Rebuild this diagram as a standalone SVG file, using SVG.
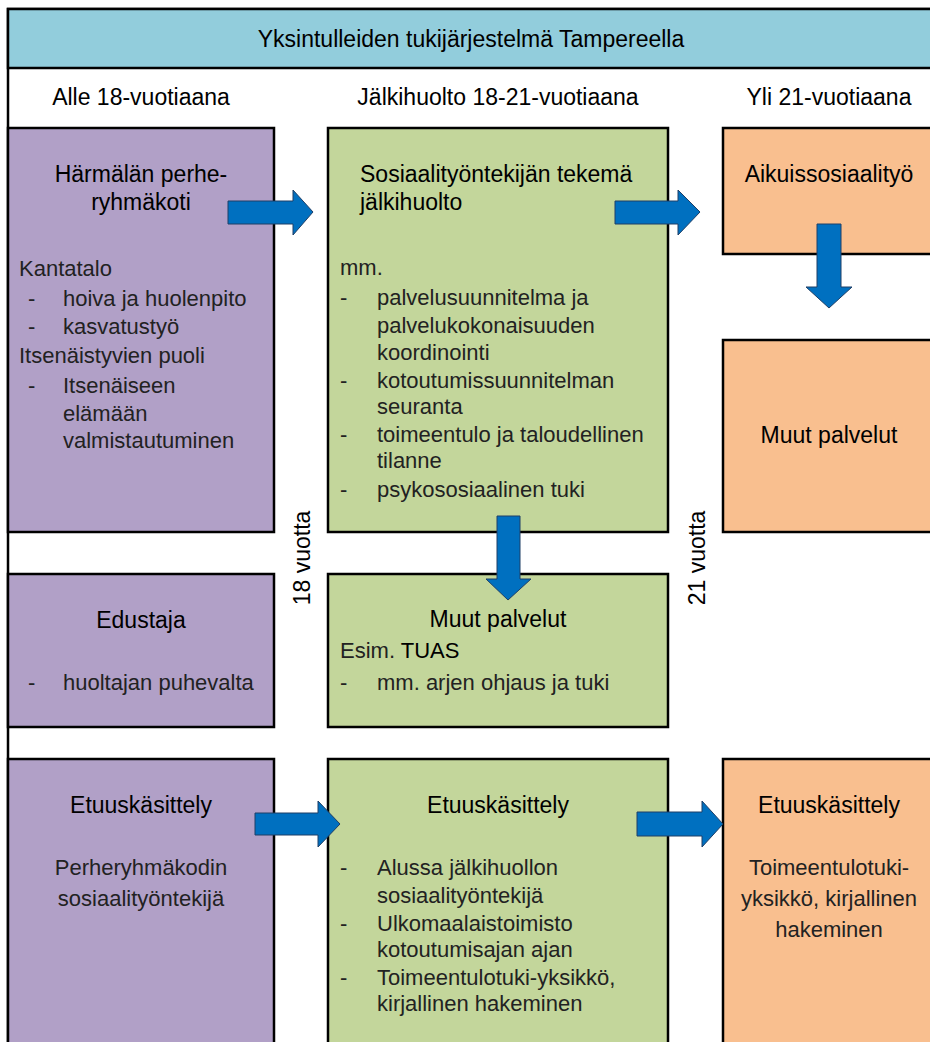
<svg xmlns="http://www.w3.org/2000/svg" width="930" height="1042" viewBox="0 0 930 1042">
<defs>
<style>
.box{stroke:#000;stroke-width:2.5}
.pur{fill:#B1A0C7}
.grn{fill:#C3D69B}
.org{fill:#F9BF8F}
.t{font-family:"Liberation Sans",Arial,sans-serif;font-size:23px;fill:#000}
.b{font-family:"Liberation Sans",Arial,sans-serif;font-size:22px;fill:#222}
.c{text-anchor:middle}
.arr{fill:#0070C0;stroke:#1F3F66;stroke-width:1}
</style>
</defs>
<rect x="0" y="0" width="930" height="1042" fill="#fff"/>
<g id="frame">
<rect x="8" y="9" width="940" height="1050" fill="#fff" stroke="#000" stroke-width="2.5"/>
</g>
<g id="header">
<rect x="8" y="9" width="940" height="59" fill="#92CDDC" stroke="#000" stroke-width="2.5"/>
<text class="t c" x="471" y="47">Yksintulleiden tukijärjestelmä Tampereella</text>
</g>
<g id="col-labels">
<text class="t c" x="141" y="105">Alle 18-vuotiaana</text>
<text class="t c" x="498" y="105">Jälkihuolto 18-21-vuotiaana</text>
<text class="t c" x="829" y="105">Yli 21-vuotiaana</text>
</g>
<g id="age-labels">
<text class="t c" transform="translate(310,558) rotate(-90)">18 vuotta</text>
<text class="t c" transform="translate(705,558) rotate(-90)">21 vuotta</text>
</g>
<g id="harmala">
<rect class="box pur" x="8" y="128" width="266" height="404"/>
<text class="t c" x="141" y="182">Härmälän perhe-</text>
<text class="t c" x="141" y="210">ryhmäkoti</text>
<text class="b" x="19" y="276">Kantatalo</text>
<text class="b" x="28" y="306">-</text><text class="b" x="63" y="306">hoiva ja huolenpito</text>
<text class="b" x="28" y="334">-</text><text class="b" x="63" y="334">kasvatustyö</text>
<text class="b" x="19" y="363">Itsenäistyvien puoli</text>
<text class="b" x="28" y="393">-</text><text class="b" x="63" y="393">Itsenäiseen</text>
<text class="b" x="63" y="421">elämään</text>
<text class="b" x="63" y="448">valmistautuminen</text>
</g>
<g id="jalkihuolto">
<rect class="box grn" x="328" y="128" width="340" height="404"/>
<text class="t" x="360" y="182">Sosiaalityöntekijän tekemä</text>
<text class="t" x="360" y="210">jälkihuolto</text>
<text class="b" x="340" y="275">mm.</text>
<text class="b" x="340" y="305">-</text><text class="b" x="377" y="305">palvelusuunnitelma ja</text>
<text class="b" x="377" y="333">palvelukokonaisuuden</text>
<text class="b" x="377" y="360">koordinointi</text>
<text class="b" x="340" y="388">-</text><text class="b" x="377" y="388">kotoutumissuunnitelman</text>
<text class="b" x="377" y="414">seuranta</text>
<text class="b" x="340" y="442">-</text><text class="b" x="377" y="442">toimeentulo ja taloudellinen</text>
<text class="b" x="377" y="468">tilanne</text>
<text class="b" x="340" y="497">-</text><text class="b" x="377" y="497">psykososiaalinen tuki</text>
</g>
<g id="aikuis">
<rect class="box org" x="723" y="128" width="230" height="126"/>
<text class="t c" x="829" y="182">Aikuissosiaalityö</text>
</g>
<g id="muut-orange">
<rect class="box org" x="723" y="340" width="230" height="192"/>
<text class="t c" x="829" y="443">Muut palvelut</text>
</g>
<g id="edustaja">
<rect class="box pur" x="8" y="574" width="266" height="153"/>
<text class="t c" x="141" y="628">Edustaja</text>
<text class="b" x="28" y="690">-</text><text class="b" x="63" y="690">huoltajan puhevalta</text>
</g>
<g id="muut-green">
<rect class="box grn" x="328" y="574" width="340" height="153"/>
<text class="t c" x="498" y="627">Muut palvelut</text>
<text class="b" x="340" y="658">Esim. <tspan style="fill:#000">TUAS</tspan></text>
<text class="b" x="340" y="690">-</text><text class="b" x="377" y="690">mm. arjen ohjaus ja tuki</text>
</g>
<g id="etuus-purple">
<rect class="box pur" x="8" y="759" width="266" height="300"/>
<text class="t c" x="141" y="813">Etuuskäsittely</text>
<text class="b c" x="141" y="875">Perheryhmäkodin</text>
<text class="b c" x="141" y="906">sosiaalityöntekijä</text>
</g>
<g id="etuus-green">
<rect class="box grn" x="328" y="759" width="340" height="300"/>
<text class="t c" x="498" y="813">Etuuskäsittely</text>
<text class="b" x="340" y="875">-</text><text class="b" x="377" y="875">Alussa jälkihuollon</text>
<text class="b" x="377" y="903">sosiaalityöntekijä</text>
<text class="b" x="340" y="931">-</text><text class="b" x="377" y="931">Ulkomaalaistoimisto</text>
<text class="b" x="377" y="957">kotoutumisajan ajan</text>
<text class="b" x="340" y="985">-</text><text class="b" x="377" y="985">Toimeentulotuki-yksikkö,</text>
<text class="b" x="377" y="1011">kirjallinen hakeminen</text>
</g>
<g id="etuus-orange">
<rect class="box org" x="723" y="759" width="230" height="300"/>
<text class="t c" x="829" y="813">Etuuskäsittely</text>
<text class="b c" x="829" y="875">Toimeentulotuki-</text>
<text class="b c" x="829" y="906">yksikkö, kirjallinen</text>
<text class="b c" x="829" y="937">hakeminen</text>
</g>
<g id="connectors">
<polygon class="arr" points="228,201 293,201 293,190 313,212 293,235 293,224 228,224"/>
<polygon class="arr" points="615,201 678,201 678,190 700,212 678,235 678,224 615,224"/>
<polygon class="arr" points="817,224 841,224 841,287 852,287 829,308 806,287 817,287"/>
<polygon class="arr" points="497,516 520,516 520,579 531,579 508,600 486,579 497,579"/>
<polygon class="arr" points="255,813 318,813 318,801 340,824 318,847 318,835 255,835"/>
<polygon class="arr" points="637,812 702,812 702,801 723,824 702,847 702,836 637,836"/>
</g>
</svg>
